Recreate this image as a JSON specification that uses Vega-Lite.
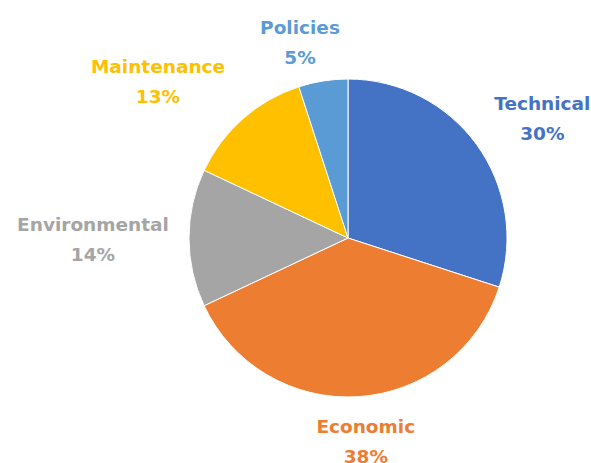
{
  "$schema": "https://vega.github.io/schema/vega-lite/v6.json",
  "width": 486,
  "height": 446,
  "autosize": "none",
  "padding": {"left": 105, "right": 0, "top": 15, "bottom": 2},
  "background": "white",
  "config": {"view": {"stroke": null}},
  "data": {
    "values": [
      {"category": "Technical", "pct": 30, "rank": 1},
      {"category": "Economic", "pct": 38, "rank": 2},
      {"category": "Environmental", "pct": 14, "rank": 3},
      {"category": "Maintenance", "pct": 13, "rank": 4},
      {"category": "Policies", "pct": 5, "rank": 5}
    ]
  },
  "transform": [
    {"calculate": "datum.category + '\\n' + datum.pct + '%'", "as": "label"}
  ],
  "encoding": {
    "theta": {"field": "pct", "type": "quantitative", "stack": true},
    "order": {"field": "rank", "type": "quantitative"},
    "color": {
      "field": "category",
      "type": "nominal",
      "legend": null,
      "scale": {
        "domain": ["Technical", "Economic", "Environmental", "Maintenance", "Policies"],
        "range": ["#4472C4", "#ED7D31", "#A5A5A5", "#FFC000", "#5B9BD5"]
      }
    }
  },
  "layer": [
    {"mark": {"type": "arc", "outerRadius": 159, "stroke": "white", "strokeWidth": 1}},
    {
      "mark": {"type": "text", "radius": 228, "thetaOffset": 0.078, "dy": -15, "font": "DejaVu Sans", "fontWeight": "bold", "fontSize": 18.5, "lineBreak": "\n", "lineHeight": 30, "align": "center", "baseline": "middle"},
      "encoding": {"text": {"condition": {"test": "datum.category === 'Technical'", "field": "label"}, "value": ""}}
    },
    {
      "mark": {"type": "text", "radius": 205, "thetaOffset": -0.024, "dy": -15, "font": "DejaVu Sans", "fontWeight": "bold", "fontSize": 18.5, "lineBreak": "\n", "lineHeight": 30, "align": "center", "baseline": "middle"},
      "encoding": {"text": {"condition": {"test": "datum.category === 'Economic'", "field": "label"}, "value": ""}}
    },
    {
      "mark": {"type": "text", "radius": 255, "thetaOffset": -0.008, "dy": -15, "font": "DejaVu Sans", "fontWeight": "bold", "fontSize": 18.5, "lineBreak": "\n", "lineHeight": 30, "align": "center", "baseline": "middle"},
      "encoding": {"text": {"condition": {"test": "datum.category === 'Environmental'", "field": "label"}, "value": ""}}
    },
    {
      "mark": {"type": "text", "radius": 246, "thetaOffset": -0.16, "dy": -15, "font": "DejaVu Sans", "fontWeight": "bold", "fontSize": 18.5, "lineBreak": "\n", "lineHeight": 30, "align": "center", "baseline": "middle"},
      "encoding": {"text": {"condition": {"test": "datum.category === 'Maintenance'", "field": "label"}, "value": ""}}
    },
    {
      "mark": {"type": "text", "radius": 201, "thetaOffset": -0.084, "dy": -15, "font": "DejaVu Sans", "fontWeight": "bold", "fontSize": 18.5, "lineBreak": "\n", "lineHeight": 30, "align": "center", "baseline": "middle"},
      "encoding": {"text": {"condition": {"test": "datum.category === 'Policies'", "field": "label"}, "value": ""}}
    }
  ]
}
